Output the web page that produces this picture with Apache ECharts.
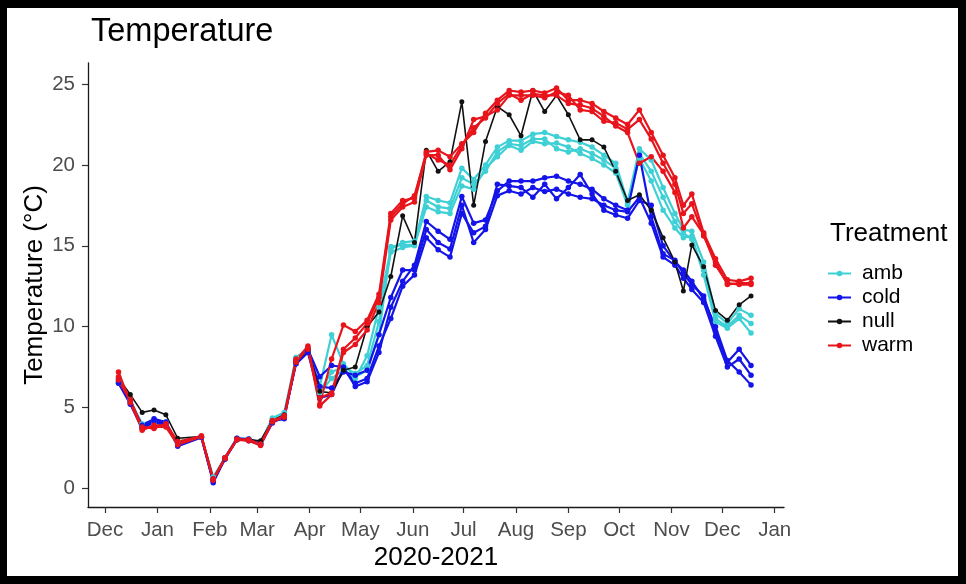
<!DOCTYPE html>
<html><head><meta charset="utf-8">
<script src="https://cdn.jsdelivr.net/npm/echarts@6/dist/echarts.min.js"></script>
<style>html,body{margin:0;padding:0;background:#000;width:966px;height:584px;overflow:hidden}
#c{position:absolute;left:7px;top:8px;width:951px;height:568px;background:#fff}</style>
</head><body><div id="c"></div>
<script>
const dates = ['2020-12-09','2020-12-16','2020-12-23','2020-12-30','2021-01-06','2021-01-13','2021-01-27','2021-02-03','2021-02-10','2021-02-17','2021-02-24','2021-03-03','2021-03-10','2021-03-17','2021-03-24','2021-03-31','2021-04-07','2021-04-14','2021-04-21','2021-04-28','2021-05-05','2021-05-12','2021-05-19','2021-05-26','2021-06-02','2021-06-09','2021-06-16','2021-06-23','2021-06-30','2021-07-07','2021-07-14','2021-07-21','2021-07-28','2021-08-04','2021-08-11','2021-08-18','2021-08-25','2021-09-01','2021-09-08','2021-09-15','2021-09-22','2021-09-29','2021-10-06','2021-10-13','2021-10-20','2021-10-27','2021-11-03','2021-11-08','2021-11-13','2021-11-20','2021-11-27','2021-12-04','2021-12-11','2021-12-18'];

const amb1 = [6.6,5.4,4.0,4.2,4.0,2.8,3.2,0.7,1.9,3.1,3.05,2.85,4.35,4.7,8.1,8.6,6.3,9.5,7.7,6.9,7.3,9.5,14.95,15.06,15.06,18.05,17.8,17.65,19.8,19.1,20.0,21.1,21.5,21.5,21.9,22.0,21.75,21.55,21.4,21.1,20.6,20.1,17.7,21.0,20.3,18.6,17.0,16.0,15.9,14.0,10.8,10.2,11.1,10.7];
const amb2 = [6.7,5.3,3.9,4.1,3.9,2.9,3.2,0.6,1.9,3.0,3.0,2.8,4.3,4.6,8.0,8.5,6.0,7.2,7.5,7.1,7.6,10.3,14.6,14.9,15.0,17.4,17.1,17.0,18.7,18.5,19.8,20.5,21.2,20.9,21.45,21.3,21.35,21.1,20.7,20.4,20.0,19.5,17.5,20.7,19.6,18.0,16.5,15.8,15.4,13.5,10.5,10.0,10.7,10.2];
const amb3 = [6.5,5.5,3.8,4.0,4.1,2.7,3.15,0.65,1.85,3.05,3.0,2.8,4.2,4.5,8.1,8.6,5.9,6.8,7.3,6.8,8.2,11.2,14.8,15.2,15.3,17.8,17.4,17.3,19.2,18.8,19.6,20.8,21.3,21.2,21.6,21.6,21.0,20.8,21.0,20.7,20.3,19.8,17.6,20.4,19.0,17.2,16.1,15.5,15.6,13.2,10.3,9.9,10.5,9.6];
const cold1 = [6.6,5.3,3.9,4.3,4.1,2.7,3.2,0.35,1.85,3.0,3.0,2.75,4.1,4.4,7.8,8.6,6.9,7.6,7.5,6.3,6.6,8.4,11.2,12.8,13.8,16.5,15.9,15.4,18.05,16.4,16.6,18.4,19.0,19.0,19.0,19.2,19.3,19.0,18.8,18.5,17.9,17.5,17.2,20.6,16.8,14.5,14.1,13.3,12.6,11.9,9.7,7.8,8.6,7.6];
const cold2 = [6.8,5.4,3.8,4.2,4.0,2.6,3.15,0.45,1.9,3.1,3.05,2.8,4.15,4.3,7.9,8.5,6.3,6.2,7.2,7.0,7.3,9.5,11.8,13.5,13.5,16.0,15.2,14.8,17.5,15.2,16.0,18.1,18.4,18.2,18.6,18.35,18.5,18.2,18.0,17.9,17.5,17.2,17.1,18.0,16.4,14.3,13.8,13.0,12.3,11.5,9.4,7.5,8.0,7.0];
const cold3 = [6.5,5.2,3.7,4.1,3.9,2.8,3.2,0.5,1.8,3.05,2.95,2.7,4.05,4.5,7.7,8.4,5.6,5.8,7.4,6.5,6.8,8.8,10.5,12.5,13.2,15.5,14.75,14.3,17.0,15.8,16.2,18.8,18.7,18.6,18.0,18.8,17.9,18.6,19.4,18.2,17.2,16.9,16.7,17.8,17.5,15.0,14.0,13.5,12.8,11.7,10.0,7.9,7.2,6.4];
const null1 = [6.8,5.8,4.7,4.85,4.55,3.1,3.2,0.6,1.9,3.0,3.0,2.95,4.2,4.55,7.8,8.6,6.0,5.9,7.3,7.5,10.0,10.9,13.1,16.85,15.2,20.9,19.6,20.2,23.9,17.5,21.45,23.6,23.1,21.8,24.6,23.3,24.3,23.1,21.55,21.55,21.1,19.6,17.8,18.15,17.2,15.5,14.0,12.2,15.05,13.7,11.0,10.4,11.35,11.9];
const warm1 = [7.2,5.3,3.6,3.9,3.9,2.8,3.25,0.55,1.85,3.0,2.95,2.65,4.15,4.5,7.9,8.8,5.2,8.0,10.1,9.7,10.4,12.0,17.0,17.8,17.95,20.8,20.9,20.5,21.3,22.0,23.2,24.0,24.6,24.5,24.6,24.45,24.75,24.0,24.0,23.8,23.3,22.9,22.5,23.4,22.0,20.6,19.2,17.5,18.2,15.8,14.2,12.9,12.8,13.0];
const warm2 = [6.9,5.5,3.7,3.8,3.8,2.7,3.2,0.6,1.9,3.05,3.0,2.7,4.1,4.4,7.8,8.7,5.1,5.8,8.4,8.9,9.8,11.5,16.6,17.4,17.7,20.6,20.6,19.7,21.0,22.8,23.0,23.4,24.3,24.3,24.3,24.15,24.5,24.3,23.4,23.3,22.7,22.6,22.2,22.8,21.6,20.1,18.8,17.0,17.6,15.6,14.0,12.6,12.7,12.7];
const warm3 = [6.7,5.4,3.8,3.7,4.0,2.9,3.2,0.5,1.9,3.0,3.0,2.75,4.2,4.45,8.0,8.6,5.6,5.9,8.6,9.3,10.2,11.8,16.8,17.6,18.1,20.7,20.3,20.0,21.2,22.3,22.9,23.8,24.4,24.0,24.4,24.3,24.3,23.8,23.7,23.5,23.0,22.4,22.0,20.1,20.5,19.6,18.3,16.1,16.8,15.7,13.8,12.7,12.6,12.6];

const treatments = ['amb','cold','null','warm'];
const colors = {amb:'#3FD0D6', cold:'#1414E8', null:'#111111', warm:'#E8141C'};
const seriesList = [
  ['amb', amb1], ['amb', amb2], ['amb', amb3],
  ['cold', cold1], ['cold', cold2], ['cold', cold3],
  ['null', null1],
  ['warm', warm1], ['warm', warm2], ['warm', warm3]
];
const monthTicks = ['2020-12-01','2021-01-01','2021-02-01','2021-03-01','2021-04-01','2021-05-01','2021-06-01','2021-07-01','2021-08-01','2021-09-01','2021-10-01','2021-11-01','2021-12-01','2022-01-01'];
const monthLabels = ['Dec','Jan','Feb','Mar','Apr','May','Jun','Jul','Aug','Sep','Oct','Nov','Dec','Jan'];
const yTicks = [0,5,10,15,20,25];

const ts = s => new Date(s + 'T00:00:00').getTime();
const tickTs = monthTicks.map(ts);
const FONT = "'Liberation Sans', Arial, sans-serif";

const chart = echarts.init(document.getElementById('c'), null, {renderer:'canvas'});
chart.setOption({
  animation: false,
  backgroundColor: '#fff',
  textStyle: {fontFamily: FONT},
  title: [
    {text:'Temperature', left:84, top:8, padding:0, textStyle:{fontFamily:FONT, fontSize:32.5, fontWeight:'normal', color:'#000'}},
    {text:'Treatment', left:823, top:213, padding:0, textStyle:{fontFamily:FONT, fontSize:26, fontWeight:'normal', color:'#000'}}
  ],
  legend: {
    data: treatments, orient:'vertical', left:820, top:255, padding:0,
    itemWidth:23, itemHeight:7, itemGap:3,
    textStyle:{fontFamily:FONT, fontSize:21, color:'#000', lineHeight:20, padding:[0,0,0,6]}
  },
  grid: {left:81, right:174, top:55, bottom:69, containLabel:false},
  xAxis: {
    type:'value', min: ts('2020-11-20') + 23*3600e3, max: ts('2022-01-06') + 12*3600e3,
    name:'2020-2021', nameLocation:'middle', nameGap:38, nameMoveOverlap:false,
    nameTextStyle:{fontFamily:FONT, fontSize:26, color:'#000'},
    axisLine:{onZero:false, lineStyle:{color:'#1a1a1a', width:1.3}},
    axisTick:{show:true, length:6, customValues: tickTs, lineStyle:{color:'#333', width:1.2}},
    axisLabel:{customValues: tickTs, margin:13, fontFamily:FONT, fontSize:20.5, color:'#4D4D4D',
      formatter: v => { const i = tickTs.indexOf(v); return i >= 0 ? monthLabels[i] : ''; }},
    splitLine:{show:false}
  },
  yAxis: {
    type:'value', min:-1.15, max:26.3,
    name:'Temperature (°C)', nameLocation:'middle', nameGap:40, nameRotate:90, nameMoveOverlap:false,
    nameTextStyle:{fontFamily:FONT, fontSize:26, color:'#000'},
    axisLine:{show:true, onZero:false, lineStyle:{color:'#1a1a1a', width:1.3}},
    axisTick:{show:true, length:6, customValues: yTicks, lineStyle:{color:'#333', width:1.2}},
    axisLabel:{customValues: yTicks, margin:13, fontFamily:FONT, fontSize:20.5, color:'#4D4D4D'},
    splitLine:{show:false}
  },
  series: seriesList.map(([name, vals]) => ({
    name, type:'line', data: dates.map((d,i) => [ts(d), vals[i]]),
    symbol:'circle', symbolSize: name === 'null' ? 5 : 5.5, showSymbol:true,
    itemStyle:{color: colors[name]},
    lineStyle:{color: colors[name], width: name === 'null' ? 1.6 : 2.2},
    emphasis:{disabled:true}
  }))
});
</script></body></html>
